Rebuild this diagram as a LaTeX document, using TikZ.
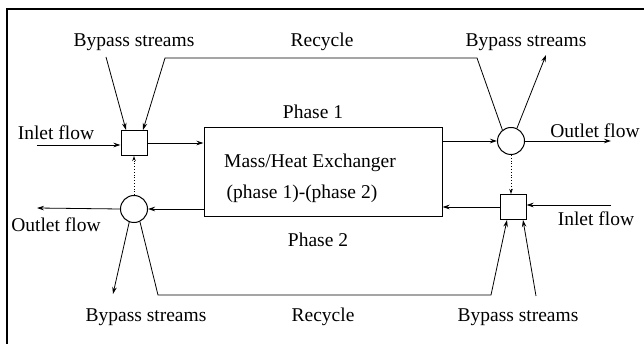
\documentclass[tikz,border=0pt]{standalone}
\usepackage{fontspec}
\setmainfont{Liberation Serif}
\usetikzlibrary{arrows.meta,calc}
\begin{document}
\begin{tikzpicture}[x=1pt,y=-1pt,
  lbl/.style={font=\fontsize{19.5}{22}\selectfont,inner sep=0pt,anchor=base},
  flow/.style={line width=0.8pt,-{Stealth[length=7pt,width=4.5pt]}},
  plain/.style={line width=0.8pt},
  dot/.style={line width=0.8pt,dotted,-{Stealth[length=5pt,width=3.5pt,open]}},
  mixer/.style={draw,line width=1pt,minimum width=26pt,minimum height=25pt,inner sep=0pt},
  splitter/.style={draw,circle,line width=1pt,minimum size=27pt,inner sep=0pt},
  frame/.style={line width=1.2pt}]
\useasboundingbox (0,0) rectangle (644,344);
% frame (top and left lines)
\draw[frame] (644,9) -- (7,9) -- (7,344);
% units
\node[mixer] (sqL) at (134,143) {};
\node[splitter] (circTR) at (511,141) {};
\node[mixer] (sqR) at (513,207) {};
\node[splitter] (circL) at (134,209) {};
\node[draw,line width=1pt,minimum width=238pt,minimum height=89pt,inner sep=0pt] (box) at (323,172.5) {};
% labels
\node[lbl] (tBL1) at (134,47) {Bypass streams};
\node[lbl] (tRc1) at (322,47) {Recycle};
\node[lbl] (tBR1) at (526,47) {Bypass streams};
\node[lbl] (tIn1) at (56,140) {Inlet flow};
\node[lbl] (tPh1) at (313,119) {Phase 1};
\node[lbl] (tOut1) at (595,138) {Outlet flow};
\node[lbl] (tMH) at (310,168) {Mass/Heat Exchanger};
\node[lbl] (tPP) at (302,199) {(phase 1)-(phase 2)};
\node[lbl] (tOut2) at (56,232) {Outlet flow};
\node[lbl] (tIn2) at (596,226) {Inlet flow};
\node[lbl] (tPh2) at (318,247) {Phase 2};
\node[lbl] (tBL2) at (146,321) {Bypass streams};
\node[lbl] (tRc2) at (323,321) {Recycle};
\node[lbl] (tBR2) at (518,321) {Bypass streams};
% coordinates
\coordinate (inL) at (37,145);
\coordinate (bpTL) at (106,57);
\coordinate (rcT1) at (477,58);
\coordinate (rcT2) at (165,58);
\coordinate (bpTR) at (546,55);
\coordinate (outR) at (611,141);
\coordinate (outL) at (37,208);
\coordinate (bpBL) at (113,294);
\coordinate (rcB1) at (158,295);
\coordinate (rcB2) at (491,295);
\coordinate (bpBR) at (536,296);
\coordinate (inR) at (611,205);
% phase 1 line
\draw[flow] (inL) -- (inL -| sqL.west);
\draw[flow] (sqL.east) -- (sqL.east -| box.west);
\draw[flow] (box.east |- circTR) -- (circTR.west);
\draw[flow] (circTR.east) -- (outR);
\draw[flow] (bpTL) -- ($(sqL.north)+(-8,0)$);
\draw[flow] (circTR.128) -- (rcT1) -- (rcT2) -- ($(sqL.north)+(9,0)$);
\draw[flow] (circTR.65) -- (bpTR);
% phase 2 line
\draw[flow] (inR) -- (inR -| sqR.east);
\draw[flow] (sqR.west) -- (sqR.west -| box.east);
\draw[flow] (box.west |- circL) -- (circL.east);
\draw[flow] (circL.west) -- (outL);
\draw[flow] (circL.250) -- (bpBL);
\draw[flow] (circL.295) -- (rcB1) -- (rcB2) -- ($(sqR.south)+(-6,0)$);
\draw[flow] (bpBR) -- ($(sqR.south)+(10,0)$);
% dotted links
\draw[dot] (circTR.south) -- (circTR.south |- sqR.north);
\draw[dot] (circL.north) -- (sqL.south);
\end{tikzpicture}
\end{document}
